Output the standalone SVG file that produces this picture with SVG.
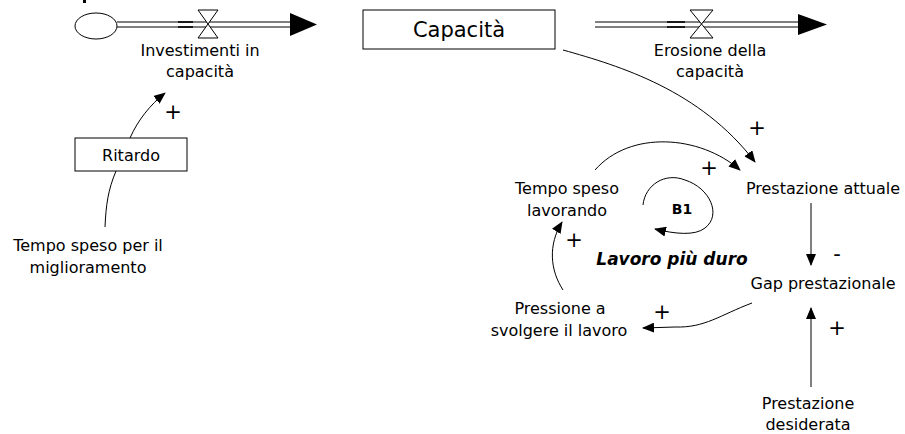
<svg xmlns="http://www.w3.org/2000/svg" width="905" height="434" viewBox="0 0 905 434">
<style>
  text { font-family: "DejaVu Sans", sans-serif; font-size: 16px; fill: #000; text-anchor: middle; }
  .big { font-size: 21px; }
  .sign { font-size: 21px; }
  .box { fill: #fff; stroke: #000; stroke-width: 1; }
  .link { fill: none; stroke: #000; stroke-width: 1; }
  .pipe { stroke: #000; stroke-width: 1; fill: none; }
  .valve { fill: #fff; stroke: #000; stroke-width: 1; }
</style>
<defs>
  <marker id="arr" markerWidth="12" markerHeight="10" refX="11" refY="5" orient="auto" markerUnits="userSpaceOnUse">
    <path d="M0,0 L12,5 L0,10 Z" fill="#000"/>
  </marker>
</defs>
<rect width="905" height="434" fill="#fff"/>
<rect x="83" y="0" width="3" height="3" fill="#000"/>

<g id="source">
  <ellipse cx="96" cy="26" rx="21" ry="13" class="box"/>
</g>
<g id="flow-investimenti">
  <line x1="117" y1="22" x2="292" y2="22" class="pipe"/>
  <line x1="117" y1="27" x2="292" y2="27" class="pipe"/>
  <line x1="178" y1="22" x2="193" y2="22" stroke="#000" stroke-width="1.6"/>
  <line x1="178" y1="27" x2="193" y2="27" stroke="#000" stroke-width="1.6"/>
  <path d="M290,13 L317,24.5 L290,36 Z" fill="#000"/>
  <path d="M198,10 L218,10 L198,38 L218,38 Z" class="valve"/>
  <text x="200" y="56">Investimenti in</text>
  <text x="200" y="77">capacità</text>
</g>
<g id="capacita">
  <rect x="363" y="10" width="192" height="39" class="box"/>
  <text x="459" y="37" class="big">Capacità</text>
</g>
<g id="flow-erosione">
  <line x1="595" y1="22" x2="800" y2="22" class="pipe"/>
  <line x1="595" y1="27" x2="800" y2="27" class="pipe"/>
  <line x1="667" y1="22" x2="685" y2="22" stroke="#000" stroke-width="1.6"/>
  <line x1="667" y1="27" x2="685" y2="27" stroke="#000" stroke-width="1.6"/>
  <path d="M798,14 L827,24.5 L798,35 Z" fill="#000"/>
  <path d="M690,10 L713,10 L690,38 L713,38 Z" class="valve"/>
  <text x="710" y="56">Erosione della</text>
  <text x="710" y="77">capacità</text>
</g>
<g id="ritardo">
  <rect x="75" y="138" width="112" height="33" class="box"/>
  <text x="131" y="161">Ritardo</text>
</g>
<g id="tempo-miglioramento">
  <text x="88" y="251">Tempo speso per il</text>
  <text x="88" y="273">miglioramento</text>
</g>
<g id="tempo-lavorando">
  <text x="567" y="194">Tempo speso</text>
  <text x="567" y="216">lavorando</text>
</g>
<g id="prestazione-attuale">
  <text x="823" y="194">Prestazione attuale</text>
</g>
<g id="gap">
  <text x="823" y="289">Gap prestazionale</text>
</g>
<g id="pressione">
  <text x="560" y="314">Pressione a</text>
  <text x="559" y="336">svolgere il lavoro</text>
</g>
<g id="prestazione-desiderata">
  <text x="808" y="409">Prestazione</text>
  <text x="808" y="430">desiderata</text>
</g>
<g id="loop">
  <path d="M643,205 C645,185 665,172 685,180 C710,188 722,215 705,228 C695,236 675,234 655,229" class="link" marker-end="url(#arr)"/>
  <text x="682" y="214" style="font-weight:bold;font-size:14px">B1</text>
  <text x="672" y="265" style="font-weight:bold;font-style:italic;font-size:17px">Lavoro più duro</text>
</g>
<g id="connectors">
  <path d="M130,138 C138,120 150,105 165,93" class="link" marker-end="url(#arr)"/>
  <path d="M105,227 C106,205 108,190 116,171" class="link"/>
  <path d="M563,50 C620,66 700,90 755,162" class="link" marker-end="url(#arr)"/>
  <path d="M595,170 C630,130 700,135 740,170" class="link" marker-end="url(#arr)"/>
  <line x1="811" y1="203" x2="811" y2="265" class="link" marker-end="url(#arr)"/>
  <path d="M752,303 C720,315 705,328 675,327 L643,328" class="link" marker-end="url(#arr)"/>
  <path d="M563,290 C550,270 548,245 562,222" class="link" marker-end="url(#arr)"/>
  <line x1="811" y1="387" x2="811" y2="308" class="link" marker-end="url(#arr)"/>
</g>
<g id="signs">
  <text x="173" y="119" class="sign">+</text>
  <text x="757" y="135" class="sign">+</text>
  <text x="709" y="175" class="sign">+</text>
  <text x="837" y="261" class="sign">-</text>
  <text x="574" y="247" class="sign">+</text>
  <text x="662" y="319" class="sign">+</text>
  <text x="837" y="335" class="sign">+</text>
</g>
</svg>
